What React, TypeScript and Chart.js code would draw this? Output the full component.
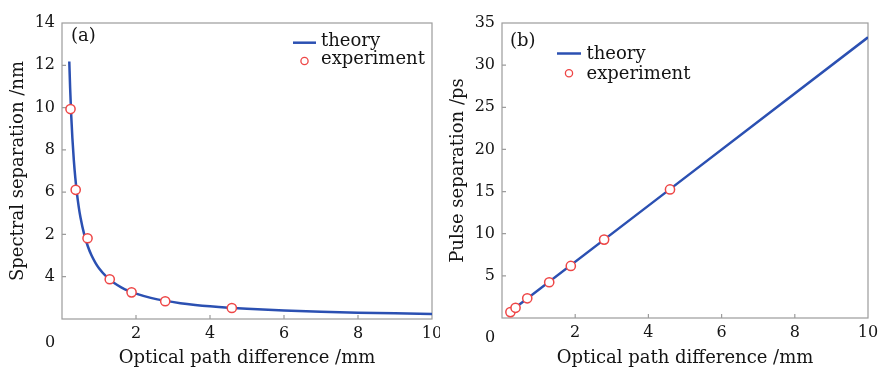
import React, { useEffect, useRef } from 'react';
import { Chart, registerables } from 'chart.js';
Chart.register(...registerables);

const FONT = '"DejaVu Serif", serif';
const BLUE = '#2b50b2';
const RED = '#ee4646';
const FRAME = '#9c9c9c';
const INK = '#141414';

// experiment (both panels share the optical path differences)
const opdExperiment = [0.23, 0.37, 0.69, 1.29, 1.88, 2.79, 4.59];
const spectralExperiment = [9.93, 6.11, 3.82, 1.88, 1.26, 0.84, 0.52];
const pulseExperiment = [0.7, 1.21, 2.34, 4.24, 6.18, 9.3, 15.25];

// theory curves
const opdTheoryA = [0.197, 0.22, 0.25, 0.28, 0.32, 0.36, 0.4, 0.45, 0.5, 0.6, 0.7, 0.8, 0.9, 1.0, 1.2, 1.4, 1.6, 1.8, 2.0, 2.4, 2.8, 3.2, 3.6, 4.0, 4.5, 5.0, 6.0, 7.0, 8.0, 9.0, 10.0];
const spectralTheory = [12.18, 10.91, 9.6, 8.57, 7.5, 6.67, 6.0, 5.33, 4.8, 4.0, 3.43, 3.0, 2.67, 2.4, 2.0, 1.71, 1.5, 1.33, 1.2, 1.0, 0.857, 0.75, 0.667, 0.6, 0.533, 0.48, 0.4, 0.343, 0.3, 0.267, 0.24];
const opdTheoryB = [0.2, 10.0];
const pulseTheory = [0.67, 33.3];

// tick labels (as printed in the figure)
const xTickLabels = ['', '2', '4', '6', '8', '10'];
const yTickLabelsA = ['', '4', '2', '6', '8', '10', '12', '14'];
const yTickLabelsB = ['', '5', '10', '15', '20', '25', '30', '35'];

const xTitle = 'Optical path difference /mm';
const yTitleA = 'Spectral separation /nm';
const yTitleB = 'Pulse separation /ps';

type Decor = {
  panel: string; panelX: number; panelY: number;
  originY: number;
  legLineY: number; legLineX0: number; legLineX1: number;
  legTextX: number; legBase1: number; legBase2: number; legMarkY: number;
};

const decorPlugin = {
  id: 'decor',
  beforeDatasetsDraw(chart: any, _a: any, opts: Decor) {
    const { ctx, chartArea: ca } = chart;
    ctx.save();
    ctx.strokeStyle = FRAME;
    ctx.lineWidth = 1.2;
    ctx.strokeRect(ca.left, ca.top, ca.right - ca.left, ca.bottom - ca.top);
    const xs = chart.scales.x;
    const ys = chart.scales.y;
    ctx.beginPath();
    xs.ticks.forEach((t: any) => {
      if (t.value <= xs.min || t.value >= xs.max) return;
      const px = xs.getPixelForValue(t.value);
      ctx.moveTo(px, ca.bottom);
      ctx.lineTo(px, ca.bottom - 4);
    });
    ys.ticks.forEach((t: any) => {
      if (t.value <= ys.min || t.value >= ys.max) return;
      const py = ys.getPixelForValue(t.value);
      ctx.moveTo(ca.left, py);
      ctx.lineTo(ca.left + 4, py);
    });
    ctx.stroke();
    ctx.restore();
  },
  afterDraw(chart: any, _a: any, opts: Decor) {
    const { ctx } = chart;
    ctx.save();
    ctx.fillStyle = INK;
    ctx.textBaseline = 'alphabetic';
    ctx.textAlign = 'center';
    ctx.font = `16px ${FONT}`;
    ctx.fillText('0', 50, opts.originY);
    ctx.textAlign = 'left';
    ctx.font = `18px ${FONT}`;
    ctx.fillText(opts.panel, opts.panelX, opts.panelY);
    // legend
    ctx.strokeStyle = BLUE;
    ctx.lineWidth = 2.5;
    ctx.beginPath();
    ctx.moveTo(opts.legLineX0, opts.legLineY);
    ctx.lineTo(opts.legLineX1, opts.legLineY);
    ctx.stroke();
    ctx.strokeStyle = RED;
    ctx.lineWidth = 1.3;
    ctx.fillStyle = '#fff';
    ctx.beginPath();
    ctx.arc((opts.legLineX0 + opts.legLineX1) / 2, opts.legMarkY, 3.6, 0, Math.PI * 2);
    ctx.fill();
    ctx.stroke();
    ctx.fillStyle = INK;
    ctx.fillText('theory', opts.legTextX, opts.legBase1);
    ctx.fillText('experiment', opts.legTextX, opts.legBase2);
    ctx.restore();
  },
};

function makeConfig(
  theoryX: number[], theoryY: number[], expY: number[],
  yMax: number, yStep: number, yLabels: string[], yTitle: string,
  padRight: number, xHeight: number, decor: Decor
): any {
  return {
    type: 'line',
    data: {
      datasets: [
        {
          label: 'experiment',
          data: opdExperiment.map((x, i) => ({ x, y: expY[i] })),
          showLine: false,
          pointRadius: 4.6,
          pointBorderWidth: 1.5,
          pointBackgroundColor: '#ffffff',
          pointBorderColor: RED,
        },
        {
          label: 'theory',
          data: theoryX.map((x, i) => ({ x, y: theoryY[i] })),
          borderColor: BLUE,
          borderWidth: 2.5,
          pointRadius: 0,
          fill: false,
          cubicInterpolationMode: 'monotone',
        },
      ],
    },
    options: {
      animation: false,
      responsive: false,
      events: [],
      layout: { padding: { left: 0, right: padRight, top: 23, bottom: 0 } },
      plugins: { legend: { display: false }, tooltip: { enabled: false }, decor },
      scales: {
        x: {
          type: 'linear', min: 0, max: 10,
          ticks: {
            stepSize: 2, padding: 5, color: INK, maxRotation: 0, autoSkip: false,
            font: { family: FONT, size: 16 },
            callback: (_v: any, i: number) => xTickLabels[i] ?? '',
          },
          grid: { display: false, drawTicks: false },
          border: { display: false },
          title: { display: true, text: xTitle, color: INK, font: { family: FONT, size: 18 }, padding: { top: 0, bottom: 0 } },
          afterFit: (s: any) => { s.height = xHeight; s.paddingLeft = 0; s.paddingRight = 0; },
        },
        y: {
          type: 'linear', min: 0, max: yMax,
          ticks: {
            stepSize: yStep, padding: 7, color: INK, autoSkip: false,
            font: { family: FONT, size: 16 },
            callback: (_v: any, i: number) => yLabels[i] ?? '',
          },
          grid: { display: false, drawTicks: false },
          border: { display: false },
          title: { display: true, text: yTitle, color: INK, font: { family: FONT, size: 18 }, padding: { top: 8, bottom: 0 } },
          afterFit: (s: any) => { s.width = 62; s.paddingTop = 0; s.paddingBottom = 0; },
        },
      },
    },
    plugins: [decorPlugin],
  };
}

export default function App() {
  const refA = useRef<HTMLCanvasElement>(null);
  const refB = useRef<HTMLCanvasElement>(null);
  useEffect(() => {
    const a = new Chart(refA.current!, makeConfig(
      opdTheoryA, spectralTheory, spectralExperiment, 14, 2, yTickLabelsA, yTitleA, 8, 50,
      { panel: '(a)', panelX: 71, panelY: 41, originY: 347,
        legLineY: 42.7, legLineX0: 293, legLineX1: 316, legTextX: 321, legBase1: 45.5, legBase2: 64, legMarkY: 61 }
    ));
    const b = new Chart(refB.current!, makeConfig(
      opdTheoryB, pulseTheory, pulseExperiment, 35, 5, yTickLabelsB, yTitleB, 12, 51,
      { panel: '(b)', panelX: 70, panelY: 46, originY: 342,
        legLineY: 53.5, legLineX0: 117, legLineX1: 141, legTextX: 146.5, legBase1: 58.5, legBase2: 78.5, legMarkY: 73.3 }
    ));
    return () => { a.destroy(); b.destroy(); };
  }, []);
  return (
    <div style={{ position: 'absolute', left: 0, top: 0, width: 880, height: 369, display: 'flex', background: '#fff' }}>
      <canvas ref={refA} width={440} height={369} style={{ display: 'block' }} />
      <canvas ref={refB} width={440} height={369} style={{ display: 'block' }} />
    </div>
  );
}
